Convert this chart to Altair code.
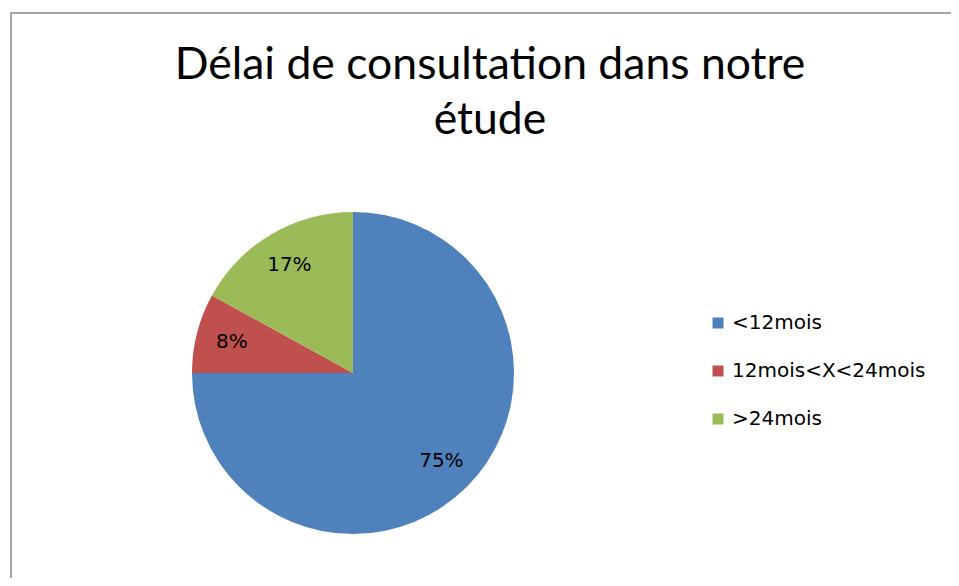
import altair as alt
import pandas as pd

categories = ["<12mois", "12mois<X<24mois", ">24mois"]
values = [75, 8, 17]
labels = ["75%", "8%", "17%"]
colors = ["#4F81BD", "#C0504D", "#9BBB59"]
title_lines = ["Délai de consultation dans notre", "étude"]

df = pd.DataFrame({"cat": categories, "val": values, "lab": labels, "ord": [0, 1, 2]})

CX, CY, R = 345, 365, 161

base = alt.Chart(df).encode(
    theta=alt.Theta("val:Q", stack=True),
    order=alt.Order("ord:Q"),
)

pie = base.mark_arc(outerRadius=R, x=CX, y=CY).encode(
    color=alt.Color(
        "cat:N",
        scale=alt.Scale(domain=categories, range=colors),
        sort=categories,
        legend=alt.Legend(
            title=None,
            orient="none",
            legendX=700,
            legendY=305,
            symbolType="square",
            symbolSize=121,
            symbolStrokeWidth=0,
            labelFont="DejaVu Sans",
            labelFontSize=20,
            labelColor="#000000",
            labelOffset=4,
            labelLimit=400,
            rowPadding=28,
        ),
    )
)

text = base.mark_text(radius=125, x=CX, y=CY, font="DejaVu Sans", fontSize=20, color="#000000").encode(
    text="lab:N"
)

tdf = pd.DataFrame({"t": title_lines, "line": [0, 1]})
title = alt.Chart(tdf).mark_text(
    font="Lato", fontSize=44.5, color="#000000", align="center", baseline="alphabetic"
).encode(
    x=alt.value(482),
    y=alt.Y("line:Q", scale=alt.Scale(domain=[0, 1], range=[71, 126]), axis=None),
    text="t:N",
)

frame_df = pd.DataFrame({"side": ["top", "left", "cover"]})
top_bar = alt.Chart(frame_df).transform_filter("datum.side == 'top'").mark_rect(
    fill="#a6a6a6", strokeWidth=0
).encode(x=alt.value(2), x2=alt.value(943), y=alt.value(4), y2=alt.value(6))
left_bar = alt.Chart(frame_df).transform_filter("datum.side == 'left'").mark_rect(
    fill="#a6a6a6", strokeWidth=0
).encode(x=alt.value(2), x2=alt.value(4), y=alt.value(4), y2=alt.value(570))
cover = alt.Chart(frame_df).transform_filter("datum.side == 'cover'").mark_rect(
    fill="#ffffff", strokeWidth=0
).encode(x=alt.value(938), x2=alt.value(943), y=alt.value(6), y2=alt.value(570))

chart = alt.layer(top_bar, left_bar, pie, text, title, cover).properties(
    width=943, height=570, padding=0, autosize=alt.AutoSizeParams(type="none")
).configure_view(stroke="transparent", strokeWidth=0)

chart.save("out.html", embed_options={"renderer": "svg", "actions": False})
